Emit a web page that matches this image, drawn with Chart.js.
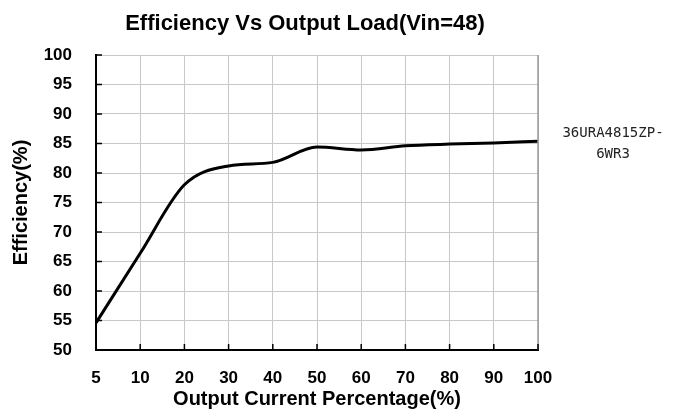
<!DOCTYPE html>
<html>
<head>
<meta charset="utf-8">
<script src="https://cdn.jsdelivr.net/npm/chart.js@4.4.1/dist/chart.umd.min.js"></script>
<style>
  html, body { margin: 0; padding: 0; background: #fff; }
  #wrap { width: 681px; height: 414px; position: relative; }
</style>
</head>
<body>
<div id="wrap"><canvas id="chart"></canvas></div>
<script>
// ==== Data ====
const loadLabels = ['5', '10', '20', '30', '40', '50', '60', '70', '80', '90', '100'];
const efficiency = [54.6, 66.4, 78.0, 81.2, 81.8, 84.4, 83.9, 84.6, 84.9, 85.1, 85.4];
const seriesName = '36URA4815ZP-6WR3';
const legendLines = ['36URA4815ZP-', '6WR3'];
const chartTitle = 'Efficiency Vs Output Load(Vin=48)';

// ==== Extra drawing: title, legend text, inner tick marks ====
const decorPlugin = {
  id: 'decor',
  afterDraw(chart) {
    const ctx = chart.ctx;
    const area = chart.chartArea;
    const x = chart.scales.x;
    const y = chart.scales.y;

    ctx.save();
    // right border
    ctx.strokeStyle = '#9a9a9a';
    ctx.lineWidth = 1.5;
    ctx.beginPath();
    ctx.moveTo(area.right, area.top);
    ctx.lineTo(area.right, area.bottom);
    ctx.stroke();

    // inner ticks
    ctx.strokeStyle = '#000';
    ctx.lineWidth = 1.5;
    ctx.beginPath();
    y.ticks.forEach((t, i) => {
      const py = y.getPixelForTick(i);
      ctx.moveTo(area.left, py);
      ctx.lineTo(area.left + 6, py);
    });
    x.ticks.forEach((t, i) => {
      const px = x.getPixelForTick(i);
      ctx.moveTo(px, area.bottom);
      ctx.lineTo(px, area.bottom - 6);
    });
    ctx.stroke();

    // title
    ctx.fillStyle = '#000';
    ctx.font = 'bold 22px "Liberation Sans", Arial, sans-serif';
    ctx.textAlign = 'center';
    ctx.textBaseline = 'middle';
    ctx.fillText(chartTitle, 305, 24);

    // legend
    ctx.font = '14px "DejaVu Sans Mono", monospace';
    ctx.fillStyle = '#222';
    legendLines.forEach((line, i) => {
      ctx.fillText(line, 613, 133 + i * 21);
    });
    ctx.restore();
  }
};

// ==== Chart ====
const tickFont = { family: '"Liberation Sans", Arial, sans-serif', size: 17, weight: 'bold' };
const axisTitleFont = { family: '"Liberation Sans", Arial, sans-serif', size: 20, weight: 'bold' };

new Chart(document.getElementById('chart'), {
  type: 'line',
  data: {
    labels: loadLabels,
    datasets: [{
      label: seriesName,
      data: efficiency,
      borderColor: '#000',
      borderWidth: 3,
      pointRadius: 0,
      fill: false,
      cubicInterpolationMode: 'monotone'
    }]
  },
  options: {
    responsive: true,
    maintainAspectRatio: false,
    animation: false,
    layout: { padding: { top: 55, right: 143, left: 0, bottom: 0 } },
    plugins: {
      legend: { display: false },
      title: { display: false },
      tooltip: { enabled: false }
    },
    scales: {
      x: {
        offset: false,
        grid: { color: '#c8c8c8', lineWidth: 1, drawTicks: false },
        border: { color: '#000', width: 2 },
        ticks: { color: '#000', font: tickFont, padding: 18, maxRotation: 0, autoSkip: false },
        title: {
          display: true,
          text: 'Output Current Percentage(%)',
          color: '#000',
          font: axisTitleFont,
          padding: { top: 0, bottom: 3 }
        },
        afterFit(scale) { scale.height = 64; }
      },
      y: {
        min: 50,
        max: 100,
        grid: { color: '#c8c8c8', lineWidth: 1, drawTicks: false },
        border: { color: '#000', width: 2 },
        ticks: { stepSize: 5, color: '#000', font: tickFont, padding: 24 },
        title: {
          display: true,
          text: 'Efficiency(%)',
          color: '#000',
          font: axisTitleFont,
          padding: { top: 9, bottom: 0 }
        },
        afterFit(scale) { scale.width = 96; }
      }
    }
  },
  plugins: [decorPlugin]
});
</script>
</body>
</html>
